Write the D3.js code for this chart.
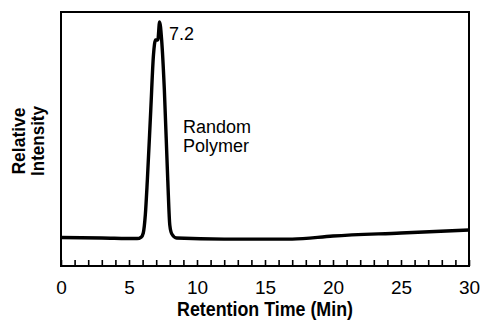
<!DOCTYPE html>
<html>
<head>
<meta charset="utf-8">
<script src="https://cdn.jsdelivr.net/npm/d3@7"></script>
<style>
  html, body { margin: 0; padding: 0; background: #fff; }
  svg { display: block; font-family: "Liberation Sans", Arial, sans-serif; }
</style>
</head>
<body>
<svg id="chart" width="482" height="324"></svg>
<script>
// retention time (min) and relative intensity (0-100)
const times = [0, 3, 5.6, 5.9, 6.05, 6.2, 6.35, 6.6, 6.8, 6.95, 7.12, 7.25, 7.4, 7.6, 7.85, 8.0, 8.15, 8.5, 12, 17, 20, 25, 30];
const intensity = [11.2, 11.0, 10.8, 11.4, 13.0, 20.1, 33.9, 61.4, 83.1, 89.0, 89.0, 96.1, 89.0, 69.3, 33.9, 16.1, 12.6, 11.0, 10.6, 10.6, 11.8, 13.0, 14.2];
const majorTicks = [0, 5, 10, 15, 20, 25, 30];
const minorTicks = d3.range(0, 31, 1);
const peakLabel = { t: 7.2, text: "7.2" };
const seriesLabel = ["Random", "Polymer"];

const trace = times.map((t, i) => ({ t, v: intensity[i] }));

const svg = d3.select("#chart");
const margin = { top: 12, right: 13, bottom: 58, left: 61 };
const width = 482, height = 324;

const x = d3.scaleLinear().domain([0, 30]).range([margin.left, width - margin.right]);
const y = d3.scaleLinear().domain([0, 100]).range([height - margin.bottom, margin.top]);

// frame
svg.append("rect")
  .attr("x", x(0)).attr("y", y(100))
  .attr("width", x(30) - x(0)).attr("height", y(0) - y(100))
  .attr("fill", "none").attr("stroke", "#000").attr("stroke-width", 2);

// minor ticks pointing up into the plot
svg.append("g")
  .attr("transform", `translate(0, ${y(0)})`)
  .call(d3.axisBottom(x).tickValues(minorTicks).tickSize(-6).tickFormat(""))
  .call((g) => g.select(".domain").remove())
  .call((g) => g.selectAll("line").attr("stroke-width", 1.6));

// tick labels
svg.append("g")
  .attr("transform", `translate(0, ${y(0)})`)
  .call(d3.axisBottom(x).tickValues(majorTicks).tickSize(0).tickPadding(15))
  .call((g) => g.select(".domain").remove())
  .call((g) => g.selectAll("text")
    .attr("font-size", 19)
    .attr("font-family", "Liberation Sans, Arial, sans-serif")
    .attr("fill", "#000"));

// trace
const line = d3.line()
  .x((d) => x(d.t))
  .y((d) => y(d.v))
  .curve(d3.curveMonotoneX);

svg.append("path")
  .datum(trace)
  .attr("fill", "none")
  .attr("stroke", "#000")
  .attr("stroke-width", 3.4)
  .attr("stroke-linejoin", "round")
  .attr("d", line);

// annotations
svg.append("text")
  .attr("x", x(peakLabel.t) + 10).attr("y", 40)
  .attr("font-size", 19).attr("textLength", 25).attr("lengthAdjust", "spacingAndGlyphs")
  .text(peakLabel.text);

svg.append("text")
  .attr("x", 183).attr("y", 133)
  .attr("font-size", 18)
  .selectAll("tspan")
  .data(seriesLabel)
  .join("tspan")
  .attr("x", 183)
  .attr("dy", (d, i) => (i === 0 ? 0 : 18.5))
  .text((d) => d);

// axis titles
svg.append("text")
  .attr("x", 265).attr("y", 316)
  .attr("text-anchor", "middle")
  .attr("font-size", 20).attr("font-weight", "bold")
  .attr("textLength", 176).attr("lengthAdjust", "spacingAndGlyphs")
  .text("Retention Time (Min)");

const yTitle = svg.append("text")
  .attr("transform", "translate(0, 141) rotate(-90)")
  .attr("text-anchor", "middle")
  .attr("font-size", 18).attr("font-weight", "bold");
yTitle.append("tspan").attr("x", 0).attr("y", 25)
  .attr("textLength", 67).attr("lengthAdjust", "spacingAndGlyphs").text("Relative");
yTitle.append("tspan").attr("x", 0).attr("y", 44)
  .attr("textLength", 70).attr("lengthAdjust", "spacingAndGlyphs").text("Intensity");
</script>
</body>
</html>
